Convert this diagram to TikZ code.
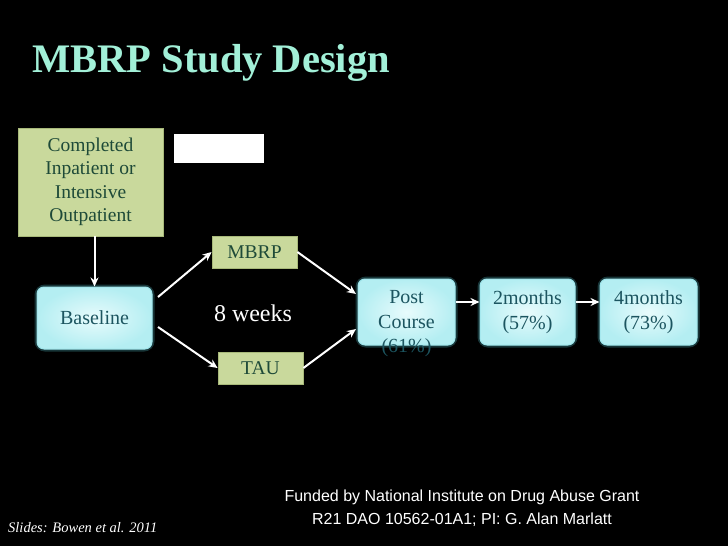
\documentclass[tikz,border=0pt]{standalone}
\usepackage{fontspec}
\setmainfont{Liberation Serif}
\newfontfamily\arialfont{Liberation Sans}
\usetikzlibrary{arrows.meta,shadows}
\definecolor{titlecol}{HTML}{A2F0D8}
\definecolor{greenfill}{HTML}{C9D99C}
\definecolor{greenedge}{HTML}{A8B97A}
\definecolor{greentext}{HTML}{1E4A38}
\definecolor{cyanedge}{HTML}{B4EEF2}
\definecolor{cyancenter}{HTML}{E8FBFC}
\definecolor{cyantext}{HTML}{1C5560}
\definecolor{glowcol}{HTML}{5FD6E0}
\tikzset{
  greenbox/.style={draw=greenedge, line width=0.8pt, fill=greenfill, text=greentext,
    font=\fontsize{19.5}{23.5}\selectfont, align=center, inner sep=0pt},
  cyanbox/.style={rounded corners=7pt, inner color=cyancenter, outer color=cyanedge,
    draw=glowcol!60, line width=1pt, text=cyantext, align=center, inner sep=0pt,
    font=\fontsize{20}{24.5}\selectfont},
  glow/.style={draw=glowcol, line width=5pt, opacity=0.25, rounded corners=8pt},
  flow/.style={draw=white, line width=2pt, -{Stealth[length=9pt,width=8pt]}}
}
\begin{document}
\begin{tikzpicture}[x=1pt,y=-1pt]
\fill[black] (0,0) rectangle (728,546);
\useasboundingbox (0,0) rectangle (728,546);

% title
\node[anchor=base west, text=titlecol, font=\fontsize{40.5}{46}\selectfont\bfseries, inner sep=0pt] (title) at (32,72) {MBRP Study Design};

% white rectangle
\fill[white] (174,134) rectangle (264,163);

% green boxes
\node[greenbox, minimum width=145pt, minimum height=108pt] (comp) at (90.5,182) {Completed\\Inpatient or\\Intensive\\Outpatient};
\node[greenbox, minimum width=85pt, minimum height=32pt] (mbrp) at (254.5,252) {MBRP};
\node[greenbox, minimum width=85pt, minimum height=32pt] (tau) at (260.5,368) {TAU};

% cyan boxes with glow
\draw[glow] (37,287) rectangle (152,349);
\draw[glow] (358,279) rectangle (455,345);
\draw[glow] (480,279) rectangle (575,345);
\draw[glow] (600,279) rectangle (697,345);
\node[cyanbox, minimum width=115pt, minimum height=62pt] (base) at (94.5,318) {Baseline};
\node[cyanbox, minimum width=97pt, minimum height=66pt] (post) at (406.5,312) {};
\node[text=cyantext, align=center, font=\fontsize{20}{24.5}\selectfont, inner sep=0pt] (posttext) at (406.5,324) {Post\\Course\\(61\%)};
\node[cyanbox, minimum width=95pt, minimum height=66pt] (two) at (527.5,312) {2months\\(57\%)};
\node[cyanbox, minimum width=97pt, minimum height=66pt] (four) at (648.5,312) {4months\\(73\%)};

% 8 weeks
\node[text=white, font=\fontsize{24}{28}\selectfont, inner sep=0pt] (weeks) at (253,313) {8 weeks};

% connectors
\coordinate (b1) at (158,297);
\coordinate (b2) at (158,327);
\coordinate (p1) at (356,294);
\coordinate (p2) at (356,329);
\draw[flow] (comp.south -| base.north) -- (base.north);
\draw[flow] (b1) -- (mbrp.west);
\draw[flow] (b2) -- (tau.west);
\draw[flow] (mbrp.east) -- (p1);
\draw[flow] (tau.east) -- (p2);
\draw[flow] (post.east |- 0,302) -- (two.west |- 0,302);
\draw[flow] (two.east |- 0,302) -- (four.west |- 0,302);

% footer texts
\node[text=white, align=center, font=\arialfont\fontsize{16}{23}\selectfont, inner sep=0pt] (fund) at (462,508) {Funded by National Institute on Drug Abuse Grant\\R21 DAO 10562-01A1; PI: G. Alan Marlatt};
\node[anchor=base west, text=white, font=\fontsize{14.5}{16}\selectfont\itshape, inner sep=0pt] (slides) at (8,532) {Slides: Bowen et al. 2011};
\end{tikzpicture}
\end{document}
